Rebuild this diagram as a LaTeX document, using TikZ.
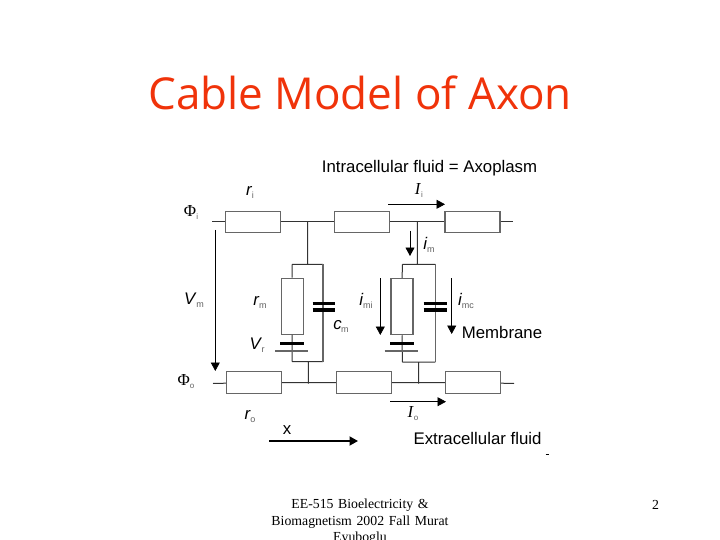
\documentclass[tikz,border=0pt]{standalone}
\usepackage{fontspec}
\setmainfont{Liberation Sans}
\newfontfamily\titlefont{Open Sans}
\newfontfamily\footfont{Liberation Serif}
\usetikzlibrary{arrows.meta}
\definecolor{wirecol}{HTML}{333333}
\definecolor{boxcol}{HTML}{666666}
\definecolor{subcol}{HTML}{606060}
\definecolor{titlecol}{HTML}{F0330A}
\newcommand{\sublab}[2]{\textit{#1}\kern-0.5pt\raisebox{-3pt}{\color{subcol}\fontsize{9}{9}\selectfont #2}}
\newcommand{\serlab}[2]{{\footfont #1}\raisebox{-3pt}{\color{subcol}\fontsize{8}{8}\selectfont #2}}
\tikzset{res/.style={rectangle,draw=boxcol,fill=white,line width=1.3pt,inner sep=0pt,minimum width=55pt,minimum height=21.5pt},
  resv/.style={rectangle,draw=boxcol,fill=white,line width=1.3pt,inner sep=0pt,minimum width=22pt,minimum height=56pt},
  wire/.style={draw=wirecol,line width=1pt},
  flow/.style={draw=black,line width=0.8pt,-{Triangle[length=8.5pt,width=9pt]}},
  lab/.style={inner sep=0pt,font=\fontsize{16.8}{16.8}\selectfont},
  thickplate/.style={draw=black,line width=3pt},
  thinplate/.style={draw=boxcol,line width=1.8pt}}
\begin{document}
\begin{tikzpicture}[x=1pt,y=-1pt]
\useasboundingbox (0,0) rectangle (720,540);
\node (title) at (360,93) [inner sep=0pt,text=titlecol,font=\titlefont\fontsize{44}{44}\selectfont] {Cable Model of Axon};
% upper line
\coordinate (il) at (212,222);
\coordinate (ir) at (513,222);
\node (ri) at (253,222) [res] {};
\node (ri2) at (362,222) [res] {};
\node (ri3) at (472.5,222) [res] {};
\draw[wire] (il)--(ri) (ri)--(ri2) (ri2)--(ri3) (ri3)--(ir);
% lower line
\coordinate (ol) at (213,383.5);
\coordinate (or) at (514,383.5);
\node (ro) at (254,382.5) [res] {};
\node (ro2) at (364,382.5) [res] {};
\node (ro3) at (473,382.5) [res] {};
\draw[wire] (ol)--(ro) (ro)--(ro2) (ro2)--(ro3) (ro3)--(or);
% first cell
\coordinate (a1) at (307.7,222);
\coordinate (a2) at (307.7,264.3);
\coordinate (a3) at (292,264.3);
\coordinate (a4) at (323,264.3);
\coordinate (a5) at (292,361.5);
\coordinate (a6) at (323,361.5);
\coordinate (a7) at (308.3,361.5);
\coordinate (a8) at (308.3,383.5);
\node (rm) at (292.3,306.3) [resv] {};
\draw[wire] (a1)--(a2) (a3)--(a4) (a3)--(rm) (rm)--(a5) (a5)--(a6) (a7)--(a8);
\draw[draw=boxcol,line width=1.3pt] (a4)--(a6);
\coordinate (vt1) at (280,343.3);
\coordinate (vt2) at (304.3,343.3);
\coordinate (vb1) at (275.3,350.7);
\coordinate (vb2) at (308,350.7);
\draw[thickplate] (vt1)--(vt2);
\draw[thinplate] (vb1)--(vb2);
\coordinate (ct1) at (312.7,303.3);
\coordinate (ct2) at (335.3,303.3);
\coordinate (cb1) at (312.7,310);
\coordinate (cb2) at (335.3,310);
\draw[thickplate,line width=3.6pt] (ct1)--(ct2) (cb1)--(cb2);
% second cell
\coordinate (b1) at (417.3,222);
\coordinate (b2) at (417.3,264.3);
\coordinate (b3) at (402.3,264.3);
\coordinate (b4) at (435.3,264.3);
\coordinate (b5) at (402.3,362);
\coordinate (b6) at (435.3,362);
\coordinate (b7) at (418.7,362);
\coordinate (b8) at (418.7,383.5);
\node (rm2) at (402,306.6) [resv] {};
\draw[wire] (b1)--(b2) (b3)--(b4) (b3)--(rm2) (rm2)--(b5) (b5)--(b6) (b7)--(b8);
\draw[draw=boxcol,line width=1.3pt] (b4)--(b6);
\coordinate (wt1) at (390,343.3);
\coordinate (wt2) at (414,343.3);
\coordinate (wb1) at (384.7,350.7);
\coordinate (wb2) at (417.7,350.7);
\draw[thickplate] (wt1)--(wt2);
\draw[thinplate] (wb1)--(wb2);
\coordinate (dt1) at (423.7,303.3);
\coordinate (dt2) at (447,303.3);
\coordinate (db1) at (423.7,310);
\coordinate (db2) at (447,310);
\draw[thickplate,line width=3.6pt] (dt1)--(dt2) (db1)--(db2);
% current arrows
\coordinate (vm1) at (215.3,230);
\coordinate (vm2) at (215.3,371);
\coordinate (ii1) at (388,204.3);
\coordinate (ii2) at (445,204.3);
\coordinate (im1) at (410,231);
\coordinate (im2) at (410,256);
\coordinate (imi1) at (380.3,278);
\coordinate (imi2) at (380.3,335);
\coordinate (imc1) at (451.7,278);
\coordinate (imc2) at (451.7,334);
\coordinate (io1) at (390,401.7);
\coordinate (io2) at (446,401.7);
\coordinate (x1) at (269.3,441);
\coordinate (x2) at (358,441);
\draw[flow] (vm1)--(vm2);
\draw[flow] (ii1)--(ii2);
\draw[flow] (im1)--(im2);
\draw[flow] (imi1)--(imi2);
\draw[flow] (imc1)--(imc2);
\draw[flow] (io1)--(io2);
\draw[flow,line width=1.8pt] (x1)--(x2);
\coordinate (d1) at (545.5,454.5);
\coordinate (d2) at (548.5,454.5);
\draw[draw=black,line width=0.7pt] (d1)--(d2);
% labels
\node (tin) at (429.5,168) [lab] {Intracellular fluid = Axoplasm};
\node (tex) at (477.5,438) [lab] {Extracellular fluid};
\node (tme) at (502,332.5) [lab] {Membrane};
\node (tx) at (287,430) [lab] {x};
\node (lri) at (250,192) [lab] {\sublab{r}{i}};
\node (lro) at (250,417) [lab] {\sublab{r}{o}};
\node (lrm) at (260,302) [lab] {\sublab{r}{m}};
\node (lvm) at (194,300) [lab] {\sublab{V}{m}};
\node (lvr) at (257,345) [lab] {\sublab{V}{r}};
\node (lcm) at (341,326) [lab] {\sublab{c}{m}};
\node (lim) at (429,245) [lab] {\sublab{i}{m}};
\node (limi) at (366,301) [lab] {\sublab{i}{mi}};
\node (limc) at (466,301) [lab] {\sublab{i}{mc}};
\node (lpi) at (191,212) [lab] {\serlab{Φ}{i}};
\node (lpo) at (186,382) [lab] {\serlab{Φ}{o}};
\node (lii) at (419,191) [lab] {\serlab{\textit{I}}{i}};
\node (lio) at (413,414) [lab] {\serlab{\textit{I}}{o}};
% footer
\node (foot) at (360,522) [inner sep=0pt,align=center,text width=200pt,font=\footfont\fontsize{13.8}{16.5}\selectfont] {EE-515 Bioelectricity \&\\Biomagnetism 2002 Fall Murat\\Eyuboglu};
\node (page) at (655.5,505) [inner sep=0pt,font=\footfont\fontsize{13.8}{16.5}\selectfont] {2};
\end{tikzpicture}
\end{document}
